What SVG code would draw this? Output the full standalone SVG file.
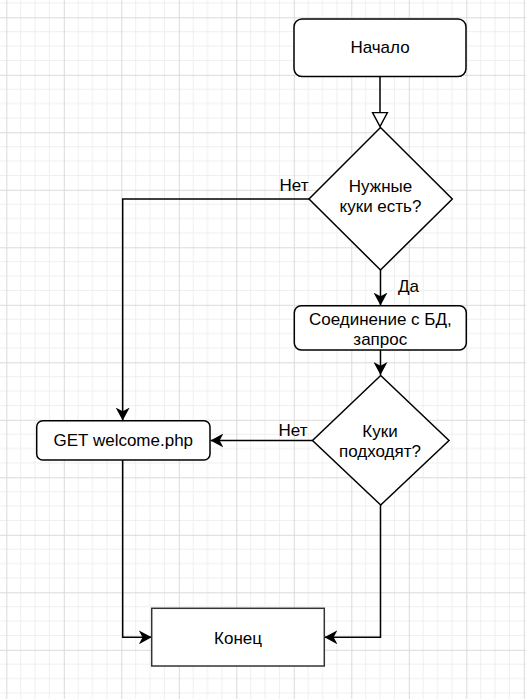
<svg xmlns="http://www.w3.org/2000/svg" width="526" height="699" viewBox="0 0 526 699">
<defs>
<pattern id="grid" width="57.5" height="57.5" patternUnits="userSpaceOnUse" x="6.3" y="17.3">
<path d="M14.375 0V57.5M28.75 0V57.5M43.125 0V57.5M0 14.375H57.5M0 28.75H57.5M0 43.125H57.5" stroke="#efefef" stroke-width="1" fill="none"/>
<path d="M0.5 0V57.5M0 0.5H57.5" stroke="#dadada" stroke-width="1" fill="none"/>
</pattern>
<marker id="arr" markerUnits="userSpaceOnUse" markerWidth="14" markerHeight="14" viewBox="0 0 13 13" refX="12" refY="6.5" orient="auto">
<path d="M0,0 L12,6.5 L0,13 L3.5,6.5 Z" fill="#000"/>
</marker>
<marker id="open" markerUnits="userSpaceOnUse" markerWidth="18" markerHeight="18" viewBox="-1 -1 18 18" refX="14" refY="7.5" orient="auto">
<path d="M0,0 L14,7.5 L0,15 Z" fill="#fff" stroke="#000" stroke-width="1.5"/>
</marker>
</defs>
<style>
.shape{fill:#fff;stroke:#000;stroke-width:1.5}
.edge{fill:none;stroke:#000;stroke-width:1.5}
text{font-family:"Liberation Sans",Arial,sans-serif;font-size:17px;fill:#000;text-anchor:middle;dominant-baseline:central}
</style>
<rect width="526" height="699" fill="#fff"/>
<rect width="526" height="699" fill="url(#grid)"/>
<g id="connectors">
<path class="edge" d="M380,77 V126.5" marker-end="url(#open)"/>
<path class="edge" d="M309,199 H122.7 V420.5" marker-end="url(#arr)"/>
<path class="edge" d="M380.5,270 V305.5" marker-end="url(#arr)"/>
<path class="edge" d="M380.5,350 V375" marker-end="url(#arr)"/>
<path class="edge" d="M312.5,440.5 H210.5" marker-end="url(#arr)"/>
<path class="edge" d="M122.7,460 V637.3 H151.7" marker-end="url(#arr)"/>
<path class="edge" d="M380.5,505 V637.3 H324.5" marker-end="url(#arr)"/>
<text x="294" y="185">Нет</text>
<text x="408.5" y="286">Да</text>
<text x="293" y="430">Нет</text>
</g>
<g id="start">
<rect class="shape" x="294" y="19" width="172" height="57.5" rx="8"/>
<text x="380" y="47.5">Начало</text>
</g>
<g id="decision1">
<path class="shape" d="M380.5,127.5 L452.3,199 L380.5,270 L309,199 Z"/>
<text x="380.5" y="186">Нужные</text>
<text x="380.5" y="206.7">куки есть?</text>
</g>
<g id="db">
<rect class="shape" x="294.3" y="305.7" width="172" height="44.3" rx="7"/>
<text x="380.3" y="319.3">Соединение с БД,</text>
<text x="380.3" y="339">запрос</text>
</g>
<g id="decision2">
<path class="shape" d="M380.7,375.5 L449,440.5 L380.7,505 L312.5,440.5 Z"/>
<text x="380" y="431">Куки</text>
<text x="380" y="451.7">подходят?</text>
</g>
<g id="welcome">
<rect class="shape" x="36.7" y="420.7" width="173.3" height="39.3" rx="6"/>
<text x="123.3" y="440.5">GET welcome.php</text>
</g>
<g id="end">
<rect x="151.7" y="608.3" width="172.6" height="57.7" fill="#fff" stroke="#333" stroke-width="1.5"/>
<text x="238" y="638">Конец</text>
</g>
</svg>
